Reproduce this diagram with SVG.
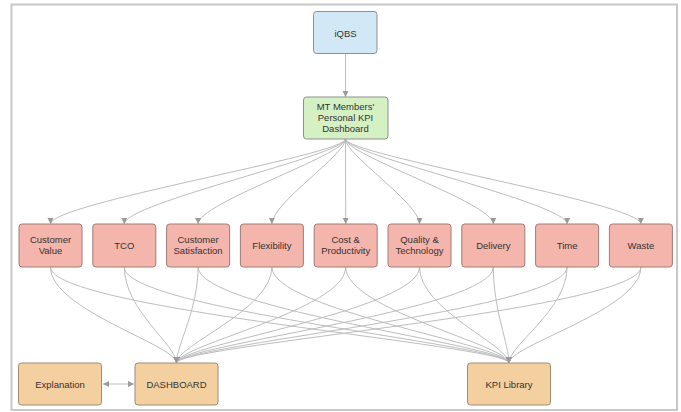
<svg xmlns="http://www.w3.org/2000/svg" width="681" height="412" viewBox="0 0 681 412">
<style>
text{font-family:"Liberation Sans",Arial,sans-serif;font-size:9.5px;fill:#333;text-anchor:middle}
.box{stroke:#8f8f8f;stroke-width:1}
.blue{fill:#d3e8f6}
.green{fill:#d5f0c2}
.red{fill:#f4b5ac;stroke:#a07c77}
.tan{fill:#f4cfa0;stroke:#a08c74}
.c{fill:none;stroke:#bdbdbd;stroke-width:1}
</style>
<defs>
<marker id="ah" markerUnits="userSpaceOnUse" markerWidth="8" markerHeight="8" refX="6" refY="3" orient="auto">
<path d="M0,0 L6,3 L0,6 Z" fill="#9a9a9a"/>
</marker>
<marker id="as" markerUnits="userSpaceOnUse" markerWidth="8" markerHeight="8" refX="0" refY="3" orient="auto">
<path d="M6,0 L0,3 L6,6 Z" fill="#9a9a9a"/>
</marker>
</defs>
<rect x="11.5" y="4.5" width="665.5" height="405.5" fill="#fff" stroke="#c8c8c8" stroke-width="2"/>
<g id="connectors">
<path class="c" d="M345.5,53 L345.5,97" marker-end="url(#ah)"/>
<path class="c" d="M345.5,139 C345.5,155 50.5,203 50.5,224" marker-end="url(#ah)"/>
<path class="c" d="M345.5,139 C345.5,155 124.3,203 124.3,224" marker-end="url(#ah)"/>
<path class="c" d="M345.5,139 C345.5,155 198.1,203 198.1,224" marker-end="url(#ah)"/>
<path class="c" d="M345.5,139 C345.5,155 271.9,203 271.9,224" marker-end="url(#ah)"/>
<path class="c" d="M345.5,139 L345.7,224" marker-end="url(#ah)"/>
<path class="c" d="M345.5,139 C345.5,155 419.5,203 419.5,224" marker-end="url(#ah)"/>
<path class="c" d="M345.5,139 C345.5,155 493.3,203 493.3,224" marker-end="url(#ah)"/>
<path class="c" d="M345.5,139 C345.5,155 567.1,203 567.1,224" marker-end="url(#ah)"/>
<path class="c" d="M345.5,139 C345.5,155 640.9,203 640.9,224" marker-end="url(#ah)"/>
<path class="c" d="M50.5,267 C50.5,310 176.5,345 176.5,363" marker-end="url(#ah)"/>
<path class="c" d="M124.3,267 C124.3,310 176.5,345 176.5,363" marker-end="url(#ah)"/>
<path class="c" d="M198.1,267 C198.1,310 176.5,345 176.5,363" marker-end="url(#ah)"/>
<path class="c" d="M271.9,267 C271.9,310 176.5,345 176.5,363" marker-end="url(#ah)"/>
<path class="c" d="M345.7,267 C345.7,310 176.5,345 176.5,363" marker-end="url(#ah)"/>
<path class="c" d="M419.5,267 C419.5,310 176.5,345 176.5,363" marker-end="url(#ah)"/>
<path class="c" d="M493.3,267 C493.3,310 176.5,345 176.5,363" marker-end="url(#ah)"/>
<path class="c" d="M567.1,267 C567.1,310 176.5,345 176.5,363" marker-end="url(#ah)"/>
<path class="c" d="M640.9,267 C640.9,310 176.5,345 176.5,363" marker-end="url(#ah)"/>
<path class="c" d="M50.5,267 C50.5,310 509,345 509,363" marker-end="url(#ah)"/>
<path class="c" d="M124.3,267 C124.3,310 509,345 509,363" marker-end="url(#ah)"/>
<path class="c" d="M198.1,267 C198.1,310 509,345 509,363" marker-end="url(#ah)"/>
<path class="c" d="M271.9,267 C271.9,310 509,345 509,363" marker-end="url(#ah)"/>
<path class="c" d="M345.7,267 C345.7,310 509,345 509,363" marker-end="url(#ah)"/>
<path class="c" d="M419.5,267 C419.5,310 509,345 509,363" marker-end="url(#ah)"/>
<path class="c" d="M493.3,267 C493.3,310 509,345 509,363" marker-end="url(#ah)"/>
<path class="c" d="M567.1,267 C567.1,310 509,345 509,363" marker-end="url(#ah)"/>
<path class="c" d="M640.9,267 C640.9,310 509,345 509,363" marker-end="url(#ah)"/>
<path class="c" d="M103,384 L134,384" marker-start="url(#as)" marker-end="url(#ah)"/>
</g>
<g id="iqbs"><rect class="box blue" x="313.5" y="11.5" width="63.5" height="42" rx="3"/><text x="345.5" y="36.5">iQBS</text></g>
<g id="mt"><rect class="box green" x="303.5" y="97" width="84.5" height="42" rx="3"/><text x="345.5" y="109.5">MT Members'</text><text x="345.5" y="120.5">Personal KPI</text><text x="345.5" y="131.5">Dashboard</text></g>
<g id="customer-value"><rect class="box red" x="19" y="224" width="63" height="43" rx="3"/><text x="50.5" y="242.5">Customer</text><text x="50.5" y="253.5">Value</text></g>
<g id="tco"><rect class="box red" x="92.8" y="224" width="63" height="43" rx="3"/><text x="124.3" y="248.5">TCO</text></g>
<g id="customer-satisfaction"><rect class="box red" x="166.6" y="224" width="63" height="43" rx="3"/><text x="198.1" y="242.5">Customer</text><text x="198.1" y="253.5">Satisfaction</text></g>
<g id="flexibility"><rect class="box red" x="240.4" y="224" width="63" height="43" rx="3"/><text x="271.9" y="248.5">Flexibility</text></g>
<g id="cost"><rect class="box red" x="314.2" y="224" width="63" height="43" rx="3"/><text x="345.7" y="242.5">Cost &amp;</text><text x="345.7" y="253.5">Productivity</text></g>
<g id="quality"><rect class="box red" x="388" y="224" width="63" height="43" rx="3"/><text x="419.5" y="242.5">Quality &amp;</text><text x="419.5" y="253.5">Technology</text></g>
<g id="delivery"><rect class="box red" x="461.8" y="224" width="63" height="43" rx="3"/><text x="493.3" y="248.5">Delivery</text></g>
<g id="time"><rect class="box red" x="535.6" y="224" width="63" height="43" rx="3"/><text x="567.1" y="248.5">Time</text></g>
<g id="waste"><rect class="box red" x="609.4" y="224" width="63" height="43" rx="3"/><text x="640.9" y="248.5">Waste</text></g>
<g id="explanation"><rect class="box tan" x="18.5" y="363" width="83" height="42" rx="3"/><text x="60" y="387.5">Explanation</text></g>
<g id="dashboard"><rect class="box tan" x="135" y="363" width="83" height="42" rx="3"/><text x="176.5" y="387.5">DASHBOARD</text></g>
<g id="kpi-library"><rect class="box tan" x="467.5" y="363" width="83" height="42" rx="3"/><text x="509" y="387.5">KPI Library</text></g>
</svg>
